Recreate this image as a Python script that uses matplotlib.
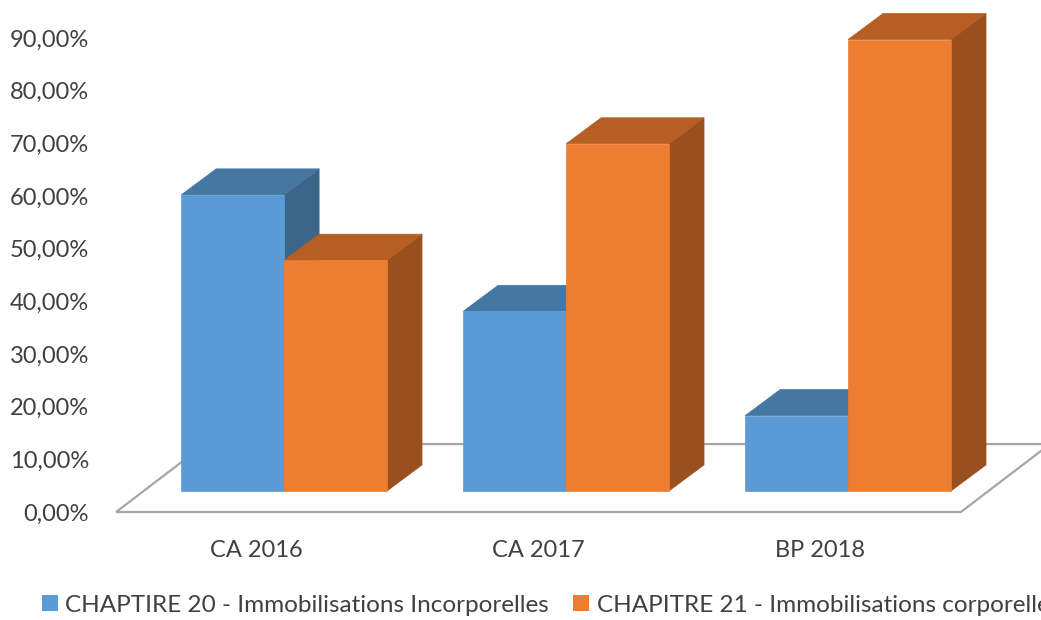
import matplotlib.pyplot as plt
from matplotlib.patches import Polygon, Patch
import numpy as np

# --- DATA ---
categories = ['CA 2016', 'CA 2017', 'BP 2018']
chap20 = [56.2, 34.1, 14.3]   # % Immobilisations Incorporelles
chap21 = [43.8, 65.9, 85.7]   # % Immobilisations corporelles
series_names = ['CHAPTIRE 20 - Immobilisations Incorporelles',
                'CHAPITRE 21 - Immobilisations corporelles']
yticks = np.arange(0, 100, 10)

# --- STYLE ---
FONT = 'Lato'
TXT = '#404040'
BLUE = ('#5B9BD5', '#4676A2', '#3B6689')     # front, top, side
ORANGE = ('#ED7D31', '#B65E24', '#9A4F1E')
BAR_W = 0.365          # bar width in category units
DEPTH_X = 0.124        # 3d depth offset (category units)
DEPTH_Y = 4.94         # 3d depth offset (% units)
BASE = 4.0             # front face of bars sits a little above the floor edge
FLOOR_X = (-0.596, 2.40)
FLOOR_DX, FLOOR_DY = 0.316, 12.9

plt.rcParams['font.family'] = [FONT, 'DejaVu Sans']

W, H = 1041, 620
fig = plt.figure(figsize=(W / 100, H / 100), dpi=100)
ax = fig.add_axes([100 / W, (H - 512) / H, (W - 100) / W, 512 / H])
ax.set_xlim(-0.653, 2.684)
ax.set_ylim(0, 97.2)
for s in ax.spines.values():
    s.set_visible(False)

# floor (outline only)
fl = [(FLOOR_X[0], 0), (FLOOR_X[1], 0),
      (FLOOR_X[1] + FLOOR_DX, FLOOR_DY), (FLOOR_X[0] + FLOOR_DX, FLOOR_DY)]
ax.add_patch(Polygon(fl, closed=True, facecolor='white', edgecolor='#A6A6A6',
                     lw=1.6, clip_on=False, zorder=1))


def bar3d(left, value, cols, z):
    b, t = BASE, BASE + value
    r = left + BAR_W
    side = [(r, b), (r + DEPTH_X, b + DEPTH_Y), (r + DEPTH_X, t + DEPTH_Y), (r, t)]
    top = [(left, t), (r, t), (r + DEPTH_X, t + DEPTH_Y), (left + DEPTH_X, t + DEPTH_Y)]
    ax.add_patch(Polygon(side, closed=True, facecolor=cols[2], edgecolor=cols[2],
                         lw=0.5, clip_on=False, zorder=z))
    ax.add_patch(Polygon(top, closed=True, facecolor=cols[1], edgecolor=cols[1],
                         lw=0.5, clip_on=False, zorder=z))
    ax.bar(left, value, width=BAR_W, bottom=b, align='edge', color=cols[0],
           edgecolor=cols[0], lw=0.5, zorder=z + 0.5)


x = np.arange(len(categories))
for i in range(len(categories)):
    bar3d(x[i] - BAR_W, chap20[i], BLUE, 2 + i * 2)
    bar3d(x[i], chap21[i], ORANGE, 3 + i * 2)

# axis labels
ax.set_yticks(yticks)
ax.set_yticklabels([f'{v:.2f}%'.replace('.', ',') for v in yticks])
ax.set_xticks(x - 0.099)
ax.set_xticklabels(categories)
ax.tick_params(axis='both', length=0, labelsize=17, labelcolor=TXT)
ax.tick_params(axis='y', pad=8)
ax.tick_params(axis='x', pad=20)

# legend runs off the right edge, as in the original
handles = [Patch(facecolor=BLUE[0]), Patch(facecolor=ORANGE[0])]
fig.legend(handles, series_names, loc='center left', bbox_to_anchor=(42 / W, 15 / H),
           ncol=2, frameon=False, fontsize=17.5, labelcolor=TXT, borderpad=0,
           borderaxespad=0, handlelength=0.66, handleheight=0.66,
           handletextpad=0.3, columnspacing=1.0)

fig.savefig('out.png', dpi=100)
